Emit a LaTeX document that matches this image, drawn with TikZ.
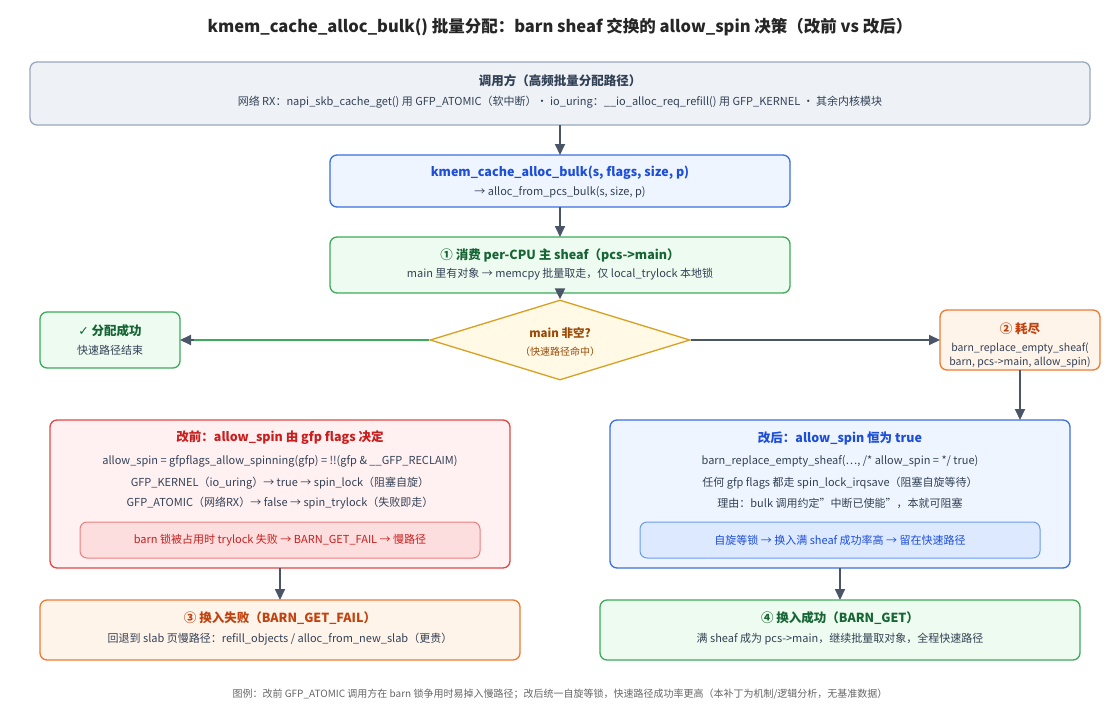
\documentclass[tikz,border=0pt]{standalone}
\usepackage{fontspec}
\setmainfont{Noto Sans CJK SC}
\newfontfamily\symfont{DejaVu Sans}
\usetikzlibrary{shapes.geometric, arrows.meta, positioning, calc}
\definecolor{ink}{HTML}{334155}
\definecolor{arr}{HTML}{4A5568}
\definecolor{grayfill}{HTML}{EEF2F7}\definecolor{grayline}{HTML}{9AA8BC}
\definecolor{bluefill}{HTML}{EEF5FF}\definecolor{blueline}{HTML}{3B6FE0}\definecolor{bluetext}{HTML}{1D4ED8}
\definecolor{greenfill}{HTML}{EEFBF0}\definecolor{greenline}{HTML}{3DAA5C}\definecolor{greentext}{HTML}{166534}
\definecolor{yelfill}{HTML}{FFF9E6}\definecolor{yelline}{HTML}{D9A020}\definecolor{yeltext}{HTML}{9A4A06}
\definecolor{orfill}{HTML}{FFF4EA}\definecolor{orline}{HTML}{EE7A33}\definecolor{ortext}{HTML}{C2410C}
\definecolor{redfill}{HTML}{FFF1F1}\definecolor{redline}{HTML}{E04848}\definecolor{redtext}{HTML}{C81E1E}
\definecolor{redin}{HTML}{FDDEDE}\definecolor{redinline}{HTML}{EE7E7E}
\definecolor{bluein}{HTML}{DCE9FF}\definecolor{blueinline}{HTML}{6C9BF0}
\begin{document}
\begin{tikzpicture}[x=1pt, y=-1pt,
  box/.style={draw, rounded corners=7pt, line width=1.3pt},
  flow/.style={-{Triangle[length=11pt,width=10pt]}, line width=2pt, arr},
  txt/.style={font=\fontsize{11}{13}\selectfont, text=ink},
  hd/.style={font=\bfseries\fontsize{12.5}{15}\selectfont}]
\useasboundingbox (0,0) rectangle (1120,720);

% title
\node[font=\bfseries\fontsize{16.5}{19}\selectfont, text=black!85] (title) at (560,27)
  {kmem\_cache\_alloc\_bulk() 批量分配：barn sheaf 交换的 allow\_spin 决策（改前 vs 改后）};

% caller
\draw[box, fill=grayfill, draw=grayline] (30,62) rectangle (1090,125);
\node[hd, text=ink] at (560,81) {调用方（高频批量分配路径）};
\node[txt] at (560,102) {网络 RX：napi\_skb\_cache\_get() 用 GFP\_ATOMIC（软中断）· io\_uring：\_\_io\_alloc\_req\_refill() 用 GFP\_KERNEL · 其余内核模块};
\coordinate (caller) at (560,125);

% bulk entry
\draw[box, fill=bluefill, draw=blueline] (330,155) rectangle (790,207);
\node[hd, text=bluetext] at (560,173) {kmem\_cache\_alloc\_bulk(s, flags, size, p)};
\node[txt] at (560,192) {→ alloc\_from\_pcs\_bulk(s, size, p)};
\coordinate (bulkin) at (560,155); \coordinate (bulkout) at (560,207);

% step 1
\draw[box, fill=greenfill, draw=greenline] (330,237) rectangle (790,293);
\node[hd, text=greentext] at (560,255) {① 消费 per-CPU 主 sheaf（pcs->main）};
\node[txt] at (560,274) {main 里有对象 → memcpy 批量取走，仅 local\_trylock 本地锁};
\coordinate (mainin) at (560,237); \coordinate (mainout) at (560,293);

% decision
\node[diamond, draw=yelline, fill=yelfill, line width=1.3pt, minimum width=260pt, minimum height=80pt,
  inner sep=0pt] (dec) at (560,340) {};
\node[hd, text=yeltext, font=\bfseries\fontsize{11.5}{14}\selectfont] at (560,333) {main 非空?};
\node[txt, text=yeltext, font=\fontsize{10}{12}\selectfont] at (560,352) {（快速路径命中）};

% success
\draw[box, fill=greenfill, draw=greenline] (40,312) rectangle (180,368);
\node[hd, text=greentext] at (110,331) {{\symfont ✓} 分配成功};
\node[txt] at (110,350) {快速路径结束};
\coordinate (succ) at (180,340);

% exhausted
\draw[box, fill=orfill, draw=orline] (940,310) rectangle (1100,370);
\node[hd, text=ortext] at (1020,329) {② 耗尽};
\node[txt, font=\fontsize{10.5}{13}\selectfont] at (1020,348) {barn\_replace\_empty\_sheaf(};
\node[txt, font=\fontsize{10.5}{13}\selectfont] at (1020,362) {barn, pcs->main, allow\_spin)};
\coordinate (exin) at (940,340); \coordinate (exout) at (1020,370);

% before
\draw[box, fill=redfill, draw=redline] (50,420) rectangle (510,568);
\node[hd, text=redtext] at (280,438) {改前：allow\_spin 由 gfp flags 决定};
\node[txt] at (280,461) {allow\_spin = gfpflags\_allow\_spinning(gfp) = !!(gfp \& \_\_GFP\_RECLAIM)};
\node[txt] at (280,483) {GFP\_KERNEL（io\_uring）→ true → spin\_lock（阻塞自旋）};
\node[txt] at (280,503) {GFP\_ATOMIC（网络RX）→ false → spin\_trylock（失败即走）};
\draw[box, line width=1pt, fill=redin, draw=redinline] (80,522) rectangle (480,558);
\node[txt, text=redtext] at (280,540) {barn 锁被占用时 trylock 失败 → BARN\_GET\_FAIL → 慢路径};
\coordinate (beforeout) at (280,568);

% after
\draw[box, fill=bluefill, draw=blueline] (610,420) rectangle (1070,568);
\node[hd, text=bluetext] at (840,438) {改后：allow\_spin 恒为 true};
\node[txt] at (840,461) {barn\_replace\_empty\_sheaf(\dots, /* allow\_spin = */ true)};
\node[txt] at (840,483) {任何 gfp flags 都走 spin\_lock\_irqsave（阻塞自旋等待）};
\node[txt] at (840,503) {理由：bulk 调用约定"中断已使能"，本就可阻塞};
\draw[box, line width=1pt, fill=bluein, draw=blueinline] (640,522) rectangle (1040,558);
\node[txt, text=bluetext] at (840,540) {自旋等锁 → 换入满 sheaf 成功率高 → 留在快速路径};
\coordinate (afterin) at (1020,420); \coordinate (afterout) at (840,568);

% fail
\draw[box, fill=orfill, draw=orline] (40,600) rectangle (520,660);
\node[hd, text=ortext] at (280,618) {③ 换入失败（BARN\_GET\_FAIL）};
\node[txt] at (280,639) {回退到 slab 页慢路径：refill\_objects / alloc\_from\_new\_slab（更贵）};
\coordinate (failin) at (280,600);

% get
\draw[box, fill=greenfill, draw=greenline] (600,600) rectangle (1080,660);
\node[hd, text=greentext] at (840,618) {④ 换入成功（BARN\_GET）};
\node[txt] at (840,639) {满 sheaf 成为 pcs->main，继续批量取对象，全程快速路径};
\coordinate (getin) at (840,600);

% legend
\node[txt, text=black!60, font=\fontsize{10}{12}\selectfont] (legend) at (560,694)
  {图例：改前 GFP\_ATOMIC 调用方在 barn 锁争用时易掉入慢路径；改后统一自旋等锁，快速路径成功率更高（本补丁为机制/逻辑分析，无基准数据）};

% connectors
\draw[flow] (caller) -- (bulkin);
\draw[flow] (bulkout) -- (mainin);
\draw[flow] (mainout) -- (dec.north);
\draw[line width=2pt, greenline] (dec.west) -- ($(succ)+(14,0)$);
\draw[flow] ($(succ)+(14,0)$) -- (succ);
\draw[flow] (dec.east) -- (exin);
\draw[flow] (exout) -- (afterin);
\draw[flow] (beforeout) -- (failin);
\draw[flow] (afterout) -- (getin);
\end{tikzpicture}
\end{document}
